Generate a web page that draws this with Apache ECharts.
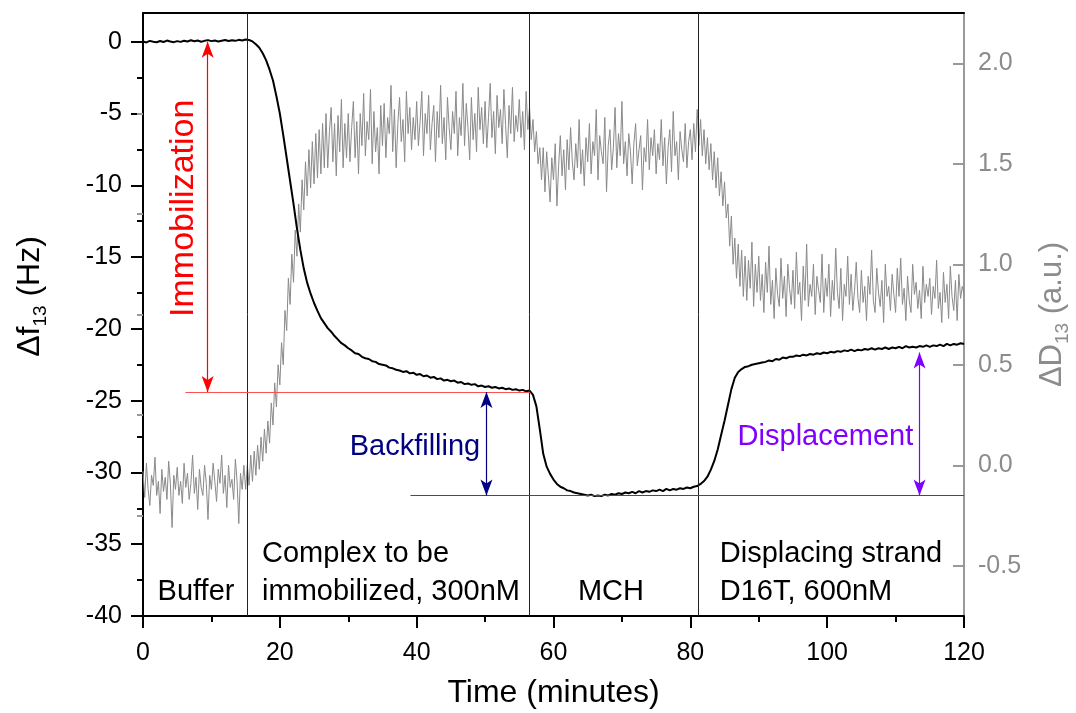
<!DOCTYPE html>
<html><head><meta charset="utf-8">
<script src="https://cdn.jsdelivr.net/npm/echarts@6/dist/echarts.min.js"></script>
<style>html,body{margin:0;padding:0;background:#fff;overflow:hidden}#c{width:1076px;height:713px}</style>
</head><body><div id="c"></div>
<script>
// ---- DATA ----
// Frequency shift Δf13 (Hz), sampled every 0.5 min from 0 to 120 min
const freqStepMin = 0.5;
const freqValues = [
  0.02,-0.05,0.06,0.00,-0.04,0.05,-0.02,0.08,0.01,-0.03,
  0.04,-0.01,0.07,0.02,0.10,0.03,0.08,0.00,0.06,0.11,
  0.04,0.09,0.02,0.07,0.12,0.05,0.10,0.06,0.13,0.08,
  0.15,0.12,0.02,-0.18,-0.42,-0.80,-1.30,-1.95,-2.70,-3.80,
  -5.00,-6.50,-8.10,-9.70,-11.30,-13.00,-14.50,-15.80,-16.80,-17.55,
  -18.20,-18.75,-19.25,-19.60,-19.95,-20.20,-20.50,-20.75,-21.00,-21.15,
  -21.35,-21.50,-21.70,-21.75,-21.95,-22.05,-22.10,-22.25,-22.30,-22.45,
  -22.50,-22.55,-22.70,-22.75,-22.85,-22.90,-23.00,-22.95,-23.10,-23.05,
  -23.20,-23.15,-23.30,-23.25,-23.40,-23.35,-23.50,-23.45,-23.60,-23.55,
  -23.65,-23.60,-23.75,-23.70,-23.85,-23.80,-23.90,-23.85,-24.00,-23.95,
  -24.05,-24.00,-24.10,-24.05,-24.15,-24.10,-24.20,-24.15,-24.25,-24.20,
  -24.30,-24.25,-24.35,-24.30,-24.60,-25.40,-27.00,-28.70,-29.60,-30.10,
  -30.50,-30.80,-31.00,-31.10,-31.25,-31.30,-31.40,-31.45,-31.50,-31.55,
  -31.60,-31.55,-31.65,-31.60,-31.65,-31.55,-31.60,-31.50,-31.55,-31.45,
  -31.50,-31.40,-31.45,-31.35,-31.45,-31.30,-31.40,-31.30,-31.35,-31.25,
  -31.30,-31.20,-31.30,-31.15,-31.25,-31.15,-31.20,-31.10,-31.15,-31.05,
  -31.10,-31.00,-30.95,-30.80,-30.60,-30.30,-29.80,-29.20,-28.40,-27.40,
  -26.40,-25.30,-24.20,-23.40,-23.00,-22.80,-22.65,-22.60,-22.50,-22.45,
  -22.40,-22.35,-22.30,-22.20,-22.25,-22.10,-22.15,-22.00,-22.05,-21.95,
  -21.95,-21.85,-21.90,-21.80,-21.85,-21.75,-21.80,-21.70,-21.75,-21.65,
  -21.70,-21.60,-21.65,-21.55,-21.60,-21.50,-21.55,-21.45,-21.55,-21.45,
  -21.50,-21.40,-21.45,-21.35,-21.45,-21.35,-21.40,-21.30,-21.40,-21.30,
  -21.35,-21.25,-21.35,-21.20,-21.30,-21.25,-21.30,-21.20,-21.25,-21.15,
  -21.25,-21.15,-21.20,-21.10,-21.20,-21.05,-21.15,-21.05,-21.10,-21.00,
  -21.05
];
// Dissipation ΔD13 (a.u.), sampled every 0.25 min from 0 to 120 min
const dissStepMin = 0.25;
const dissValues = [
  -0.03,-0.16,0.01,-0.12,-0.20,-0.05,-0.10,0.04,-0.15,-0.08,-0.24,-0.02,-0.13,-0.06,-0.17,0.02,-0.09,-0.31,-0.05,-0.12,
  -0.01,-0.15,-0.08,-0.19,0.01,-0.11,-0.04,-0.17,-0.09,0.05,-0.14,-0.06,-0.22,-0.02,-0.11,-0.15,0.00,-0.09,-0.27,-0.05,
  -0.12,0.01,-0.08,-0.18,-0.02,-0.09,0.05,-0.14,-0.05,-0.21,0.00,-0.11,-0.07,-0.17,0.03,-0.08,-0.29,-0.04,-0.12,0.00,
  -0.12,0.00,-0.10,0.05,-0.08,0.07,-0.05,0.10,-0.02,0.14,0.02,0.18,0.06,0.22,0.11,0.31,0.20,0.41,0.29,0.50,
  0.40,0.61,0.50,0.77,0.67,0.93,0.80,1.05,0.91,1.17,1.04,1.30,1.16,1.42,1.27,1.51,1.34,1.57,1.38,1.61,
  1.40,1.65,1.43,1.67,1.45,1.70,1.48,1.75,1.48,1.66,1.78,1.51,1.70,1.44,1.74,1.56,1.82,1.48,1.70,1.53,
  1.75,1.51,1.68,1.81,1.53,1.71,1.45,1.75,1.59,1.85,1.54,1.71,1.62,1.87,1.50,1.76,1.56,1.68,1.45,1.79,
  1.59,1.80,1.53,1.73,1.65,1.89,1.56,1.77,1.48,1.70,1.83,1.61,1.72,1.51,1.86,1.65,1.78,1.57,1.73,1.62,
  1.81,1.59,1.71,1.86,1.54,1.75,1.65,1.84,1.57,1.70,1.79,1.51,1.76,1.63,1.89,1.60,1.73,1.52,1.83,1.68,
  1.57,1.76,1.65,1.86,1.54,1.73,1.64,1.90,1.59,1.80,1.68,1.52,1.83,1.62,1.75,1.56,1.88,1.67,1.78,1.60,
  1.81,1.58,1.73,1.90,1.63,1.76,1.55,1.84,1.68,1.77,1.60,1.87,1.69,1.53,1.79,1.65,1.88,1.61,1.74,1.66,
  1.82,1.63,1.76,1.57,1.86,1.67,1.78,1.62,1.72,1.56,1.66,1.50,1.58,1.42,1.58,1.36,1.56,1.44,1.31,1.53,
  1.42,1.60,1.29,1.49,1.64,1.44,1.57,1.37,1.62,1.47,1.68,1.51,1.42,1.60,1.48,1.72,1.45,1.57,1.39,1.63,
  1.51,1.70,1.45,1.61,1.54,1.77,1.42,1.64,1.56,1.50,1.73,1.36,1.59,1.67,1.47,1.58,1.78,1.48,1.65,1.54,
  1.81,1.50,1.61,1.44,1.65,1.56,1.40,1.60,1.70,1.49,1.57,1.64,1.37,1.58,1.51,1.72,1.47,1.63,1.54,1.67,
  1.45,1.60,1.52,1.72,1.49,1.63,1.40,1.58,1.67,1.46,1.76,1.54,1.61,1.42,1.66,1.57,1.51,1.70,1.48,1.61,
  1.67,1.52,1.70,1.56,1.77,1.59,1.72,1.54,1.67,1.50,1.63,1.47,1.60,1.42,1.56,1.38,1.53,1.34,1.46,1.29,
  1.41,1.23,1.30,1.09,1.24,1.00,1.13,0.93,1.10,0.89,1.07,0.84,1.04,0.82,1.02,0.88,1.11,0.79,1.00,0.86,
  1.04,0.82,0.95,0.76,1.01,0.86,1.09,0.80,0.92,0.73,0.98,0.85,0.79,1.03,0.83,0.94,0.74,1.00,0.88,0.80,
  0.97,0.78,1.06,0.85,0.91,0.72,0.99,0.82,1.10,0.79,0.90,0.84,1.00,0.75,0.94,0.87,0.81,1.05,0.76,0.93,
  0.84,1.00,0.74,0.92,0.82,1.08,0.86,0.78,0.98,0.72,0.90,0.84,1.04,0.80,0.95,0.77,0.87,1.01,0.83,0.76,
  0.97,0.81,0.89,0.72,0.94,0.85,1.07,0.82,0.76,0.98,0.86,0.79,0.92,0.71,1.00,0.84,0.89,0.77,0.95,0.85,
  0.76,0.98,0.84,1.03,0.80,0.88,0.72,0.94,0.82,0.76,1.00,0.85,0.91,0.78,0.87,0.73,0.99,0.81,0.90,0.84,
  0.93,0.75,0.89,0.83,1.02,0.78,0.86,0.71,0.96,0.81,0.90,0.73,0.99,0.84,0.77,0.92,0.72,0.95,0.83,0.89,
  0.85
];
// Axis ticks
const xTicks = [0, 20, 40, 60, 80, 100, 120];
const leftMajorTicks = [-40, -35, -30, -25, -20, -15, -10, -5, 0];
const leftMinorTicks = [-37.5, -32.5, -27.5, -22.5, -17.5, -12.5, -7.5, -2.5];
const rightMajorTicks = [-0.5, 0, 0.5, 1.0, 1.5, 2.0];
const rightMinorTicks = [-0.25, 0.25, 0.75, 1.25, 1.75];
// Injection times (min)
const injectionTimes = [15.3, 56.4, 81.2];
// Annotation levels (Hz)
const levelImmobilized = -24.4;
const levelBackfilled = -31.6;
const levelDisplaced = -21.65;
const levelStart = 0;

// ---- CHART ----
const FONT = '"Liberation Sans", Arial, sans-serif';
const freqData = freqValues.map((v, i) => [i * freqStepMin, v]);
const dissData = dissValues.map((v, i) => [i * dissStepMin, v]);

const chart = echarts.init(document.getElementById('c'), null, {renderer: 'canvas'});

function arrow(t, v1, v2, color) {
  return [
    {coord: [t, v1], symbol: 'arrow', symbolSize: [9, 16], lineStyle: {color: color, width: 1.2, type: 'solid'}},
    {coord: [t, v2], symbol: 'arrow', symbolSize: [9, 16]}
  ];
}
function hline(t1, t2, v, color) {
  return [
    {coord: [t1, v], symbol: 'none', lineStyle: {color: color, width: 1.2, type: 'solid'}},
    {coord: [t2, v], symbol: 'none'}
  ];
}

const option = {
  animation: false,
  backgroundColor: '#fff',
  textStyle: {fontFamily: FONT},
  grid: {left: 143, right: 112, top: 13, bottom: 97, containLabel: false, outerBoundsMode: 'none'},
  xAxis: [
    {
      type: 'value', min: 0, max: 120, interval: 20, position: 'bottom',
      axisLine: {show: true, onZero: false, lineStyle: {color: '#000', width: 2}},
      axisTick: {show: true, length: 12, lineStyle: {color: '#000', width: 2}},
      minorTick: {show: true, splitNumber: 2, length: 6, lineStyle: {color: '#000', width: 2}},
      splitLine: {show: false}, minorSplitLine: {show: false},
      axisLabel: {fontSize: 25, color: '#000', margin: 25, fontFamily: FONT},
      name: 'Time (minutes)', nameLocation: 'middle', nameGap: 61,
      nameTextStyle: {fontSize: 32, color: '#000', fontFamily: FONT}
    },
    {
      type: 'value', min: 0, max: 120, position: 'top',
      axisLine: {show: true, onZero: false, lineStyle: {color: '#000', width: 2}},
      axisTick: {show: false}, axisLabel: {show: false}, splitLine: {show: false}
    }
  ],
  yAxis: [
    {
      type: 'value', min: -40, max: 2, position: 'left',
      axisLine: {show: true, onZero: false, lineStyle: {color: '#000', width: 2}},
      axisTick: {show: true, length: 12, customValues: leftMajorTicks, lineStyle: {color: '#000', width: 2}},
      axisLabel: {customValues: leftMajorTicks, fontSize: 25, color: '#000', margin: 21, fontFamily: FONT},
      splitLine: {show: false},
      name: '{a|Δf}{b|13}{a| (Hz)}', nameLocation: 'middle', nameRotate: 90, nameGap: 93,
      nameTextStyle: {
        color: '#000', fontFamily: FONT, padding: [0, 0, 0, 36],
        rich: {a: {fontSize: 32, color: '#000', fontFamily: FONT}, b: {fontSize: 19, color: '#000', fontFamily: FONT, padding: [21, 0, 0, 0]}}
      }
    },
    {
      type: 'value', min: -40, max: 2, position: 'left',
      axisLine: {show: false},
      axisTick: {show: true, length: 6, customValues: leftMinorTicks, lineStyle: {color: '#000', width: 2}},
      axisLabel: {show: false}, splitLine: {show: false}
    },
    {
      type: 'value', min: -0.75, max: 2.25, position: 'right',
      axisLine: {show: true, onZero: false, lineStyle: {color: '#999', width: 2}},
      axisTick: {show: true, inside: true, length: 11, customValues: rightMajorTicks, lineStyle: {color: '#999', width: 2}},
      axisLabel: {customValues: rightMajorTicks, fontSize: 25, color: '#8c8c8c', margin: 14, fontFamily: FONT,
        formatter: v => Number(v).toFixed(1)},
      splitLine: {show: false},
      name: '{a|ΔD}{b|13}{a| (a.u.)}', nameLocation: 'middle', nameRotate: 90, nameGap: 68,
      nameTextStyle: {
        color: '#8c8c8c', fontFamily: FONT,
        rich: {a: {fontSize: 31, color: '#8c8c8c', fontFamily: FONT}, b: {fontSize: 19, color: '#8c8c8c', fontFamily: FONT, padding: [21, 0, 0, 0]}}
      }
    },
    {
      type: 'value', min: -0.75, max: 2.25, position: 'right',
      axisLine: {show: false},
      axisTick: {show: true, inside: true, length: 6, customValues: rightMinorTicks, lineStyle: {color: '#999', width: 2}},
      axisLabel: {show: false}, splitLine: {show: false}
    }
  ],
  series: [
    {
      name: 'ΔD13', type: 'line', xAxisIndex: 0, yAxisIndex: 2, data: dissData,
      showSymbol: false, symbol: 'none', lineStyle: {color: '#8a8a8a', width: 1}, z: 2
    },
    {
      name: 'Δf13', type: 'line', xAxisIndex: 0, yAxisIndex: 0, data: freqData,
      showSymbol: false, symbol: 'none', lineStyle: {color: '#000', width: 2}, z: 3,
      markLine: {
        silent: true, animation: false, symbol: 'none', label: {show: false},
        emphasis: {disabled: true},
        data: [
          ...injectionTimes.map(t => ({xAxis: t, symbol: 'none', lineStyle: {color: '#222', width: 1, type: 'solid'}})),
          hline(6.2, 56.6, levelImmobilized, '#ff5050'),
          hline(39.1, 120, levelBackfilled, '#3a3ad0'),
          arrow(9.45, levelStart, levelImmobilized, '#ff0000'),
          arrow(50.2, levelImmobilized, levelBackfilled, '#000080'),
          arrow(113.5, levelDisplaced, levelBackfilled, '#8000ff')
        ]
      }
    }
  ]
};
chart.setOption(option);

// Text annotations placed in data coordinates
const notes = [
  {text: 'Immobilization', t: 6.0, v: -11.6, color: '#ff0000', rot: true, align: 'center', size: 34},
  {text: 'Backfilling', t: 39.75, v: -28.2, color: '#000080', align: 'center', size: 29},
  {text: 'Displacement', t: 99.75, v: -27.5, color: '#8000ff', align: 'center', size: 29},
  {text: 'Buffer', t: 7.75, v: -38.3, color: '#000', align: 'center', size: 29},
  {text: 'Complex to be\nimmobilized, 300nM', t: 17.4, v: -37.0, color: '#000', align: 'left', size: 29},
  {text: 'MCH', t: 68.4, v: -38.3, color: '#000', align: 'center', size: 29},
  {text: 'Displacing strand\nD16T, 600nM', t: 84.3, v: -37.0, color: '#000', align: 'left', size: 29}
];
const graphics = notes.map(n => {
  const p = chart.convertToPixel({seriesIndex: 1}, [n.t, n.v]);
  return {
    type: 'text', x: p[0], y: p[1], rotation: n.rot ? Math.PI / 2 : 0, silent: true, z: 10,
    style: {
      text: n.text, fill: n.color, fontSize: n.size, fontFamily: FONT, lineHeight: 38,
      align: n.align, textAlign: n.align, verticalAlign: 'middle', textVerticalAlign: 'middle'
    }
  };
});
chart.setOption({graphic: graphics});
</script></body></html>
